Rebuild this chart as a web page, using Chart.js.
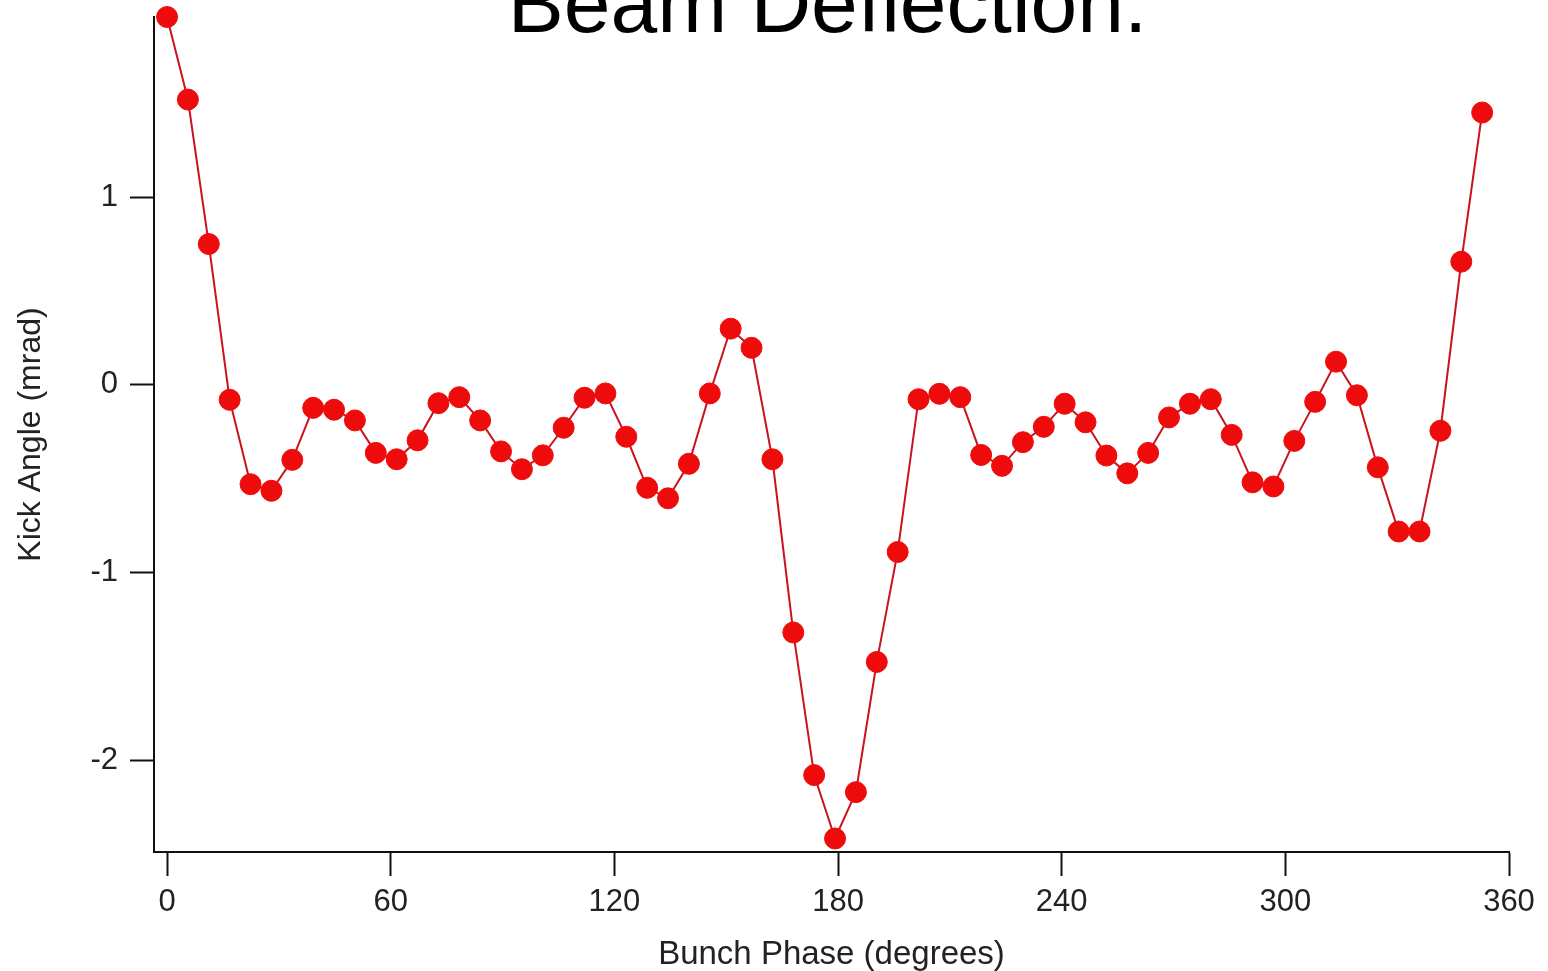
<!DOCTYPE html>
<html>
<head>
<meta charset="utf-8">
<title>Beam Deflection</title>
<script src="https://cdn.jsdelivr.net/npm/chart.js@4.4.1/dist/chart.umd.min.js"></script>
<style>
 html, body { margin: 0; padding: 0; background: #fff; }
 #wrap { position: relative; width: 1548px; height: 971px; }
</style>
</head>
<body>
<div id="wrap"><canvas id="deflectionChart"></canvas></div>
<script>
const chartTitle = "Beam Deflection.";
const xTitle = "Bunch Phase (degrees)";
const yTitle = "Kick Angle (mrad)";

const bunchPhase = [
 0, 5.6, 11.2, 16.8, 22.4, 28, 33.6, 39.2, 44.8, 50.4, 56, 61.6, 67.2, 72.8, 78.4, 84,
 89.6, 95.2, 100.8, 106.4, 112, 117.6, 123.2, 128.8, 134.4, 140, 145.6, 151.2, 156.8, 162.4, 168, 173.6,
 179.2, 184.8, 190.4, 196, 201.6, 207.2, 212.8, 218.4, 224, 229.6, 235.2, 240.8, 246.4, 252, 257.6, 263.2,
 268.8, 274.4, 280, 285.6, 291.2, 296.8, 302.4, 308, 313.6, 319.2, 324.8, 330.4, 336, 341.6, 347.2, 352.8,
];
const kickAngle = [
 1.96, 1.52, 0.75, -0.08, -0.53, -0.565, -0.40, -0.123, -0.133, -0.19, -0.363, -0.397, -0.296, -0.098, -0.066, -0.19,
 -0.355, -0.45, -0.376, -0.229, -0.069, -0.046, -0.277, -0.549, -0.605, -0.421, -0.046, 0.299, 0.197, -0.397, -1.32, -2.08,
 -2.418, -2.171, -1.477, -0.891, -0.077, -0.048, -0.066, -0.374, -0.432, -0.306, -0.224, -0.101, -0.2, -0.377, -0.472, -0.363,
 -0.174, -0.101, -0.077, -0.267, -0.52, -0.542, -0.299, -0.091, 0.123, -0.056, -0.44, -0.782, -0.782, -0.245, 0.656, 1.451,
];
const xTicks = [0, 60, 120, 180, 240, 300, 360];
const yTicks = [-2, -1, 0, 1];

const fontFamily = '"Liberation Sans", Arial, sans-serif';

// big title, partly cut off at the top of the page like the original
const titlePlugin = {
 id: "cutTitle",
 afterDraw(chart) {
  const { ctx, chartArea } = chart;
  ctx.save();
  ctx.font = "84px " + fontFamily;
  ctx.fillStyle = "#000";
  ctx.textAlign = "center";
  ctx.textBaseline = "alphabetic";
  ctx.fillText(chartTitle, (chartArea.left + chartArea.right) / 2 - 4, 32);
  ctx.restore();
 },
};

document.addEventListener("DOMContentLoaded", () => {
 const ctx = document.getElementById("deflectionChart").getContext("2d");

 new Chart(ctx, {
  type: "line",
  data: {
   datasets: [
    {
     label: "Kick Angle",
     data: bunchPhase.map((p, i) => ({ x: p, y: kickAngle[i] })),
     borderColor: "#c8141e",
     borderWidth: 2,
     pointRadius: 10.5,
     pointBackgroundColor: "#ee0b0b",
     pointBorderColor: "#ee0b0b",
     pointBorderWidth: 1,
     tension: 0,
     clip: false,
    },
   ],
  },
  options: {
   responsive: true,
   maintainAspectRatio: false,
   animation: false,
   layout: { padding: { top: 17, right: 39, bottom: 0, left: 0 } },
   plugins: {
    legend: { display: false },
    tooltip: { enabled: false },
   },
   scales: {
    x: {
     type: "linear",
     min: -3.5,
     max: 360,
     afterBuildTicks: (s) => { s.ticks = xTicks.map((v) => ({ value: v })); },
     afterFit: (s) => { s.height = 119; s.paddingLeft = 0; s.paddingRight = 0; },
     border: { display: true, color: "#111", width: 2 },
     grid: { drawOnChartArea: false, drawTicks: true, tickLength: 24, tickWidth: 2, tickColor: "#111" },
     ticks: { color: "#222", padding: 8, maxRotation: 0, font: { family: fontFamily, size: 31 } },
     title: {
      display: true,
      text: xTitle,
      color: "#222",
      padding: { top: 0, bottom: 0 },
      font: { family: fontFamily, size: 33, lineHeight: 1 },
     },
    },
    y: {
     min: -2.49,
     max: 1.96,
     afterBuildTicks: (s) => { s.ticks = yTicks.map((v) => ({ value: v })); },
     afterFit: (s) => { s.width = 154; s.paddingTop = 0; s.paddingBottom = 0; },
     border: { display: true, color: "#111", width: 2 },
     grid: { drawOnChartArea: false, drawTicks: true, tickLength: 24, tickWidth: 2, tickColor: "#111" },
     ticks: { color: "#222", padding: 12, font: { family: fontFamily, size: 31 } },
     title: {
      display: true,
      text: yTitle,
      color: "#222",
      padding: { top: 15, bottom: 0 },
      font: { family: fontFamily, size: 32, lineHeight: 1 },
     },
    },
   },
  },
  plugins: [titlePlugin],
 });
});
</script>
</body>
</html>
